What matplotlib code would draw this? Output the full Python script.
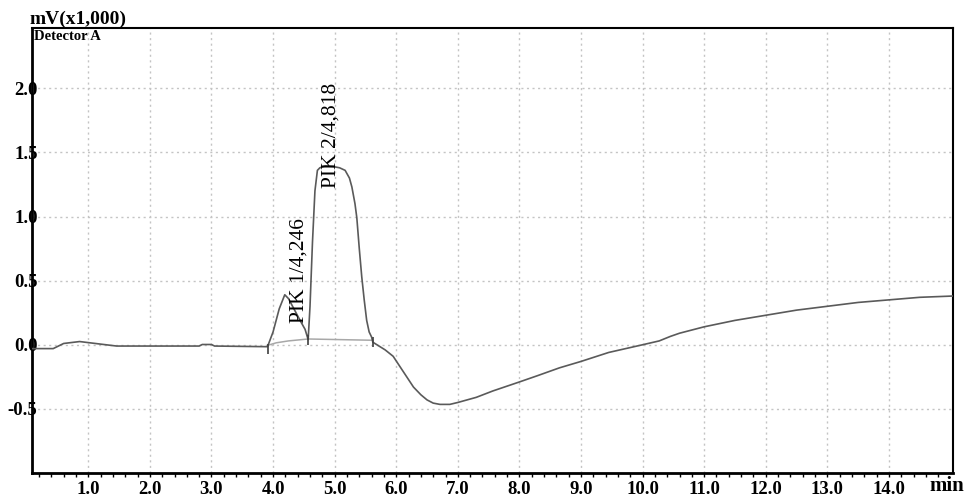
import numpy as np
import matplotlib
matplotlib.use("Agg")
import matplotlib.pyplot as plt

# chromatogram trace (time in min, signal in mV x1000)
time_min = [0.09, 0.43, 0.60, 0.86, 1.03, 1.20, 1.46, 2.80, 2.85, 3.00, 3.05, 3.91,
            4.00, 4.10, 4.19, 4.25, 4.35, 4.45, 4.52, 4.57,
            4.60, 4.64, 4.68, 4.72, 4.76, 4.85, 4.97, 5.08, 5.17, 5.24, 5.28, 5.33,
            5.36, 5.40, 5.44, 5.48, 5.52, 5.56, 5.60, 5.62,
            5.72, 5.82, 5.95, 6.06, 6.17, 6.28, 6.40, 6.50, 6.60, 6.71, 6.87, 7.00,
            7.30, 7.57, 8.00, 8.30, 8.65, 9.00, 9.45, 10.00, 10.27, 10.45, 10.60,
            11.00, 11.50, 12.00, 12.50, 13.00, 13.50, 14.00, 14.50, 15.04]
signal = [-0.03, -0.03, 0.01, 0.025, 0.015, 0.005, -0.01, -0.01, 0.002, 0.002, -0.01, -0.015,
          0.10, 0.28, 0.39, 0.36, 0.27, 0.18, 0.12, 0.04,
          0.30, 0.80, 1.20, 1.36, 1.38, 1.395, 1.39, 1.38, 1.36, 1.30, 1.23, 1.10,
          0.99, 0.75, 0.53, 0.35, 0.19, 0.10, 0.06, 0.02,
          -0.01, -0.04, -0.09, -0.17, -0.25, -0.33, -0.39, -0.43, -0.455, -0.465, -0.465, -0.45,
          -0.41, -0.36, -0.29, -0.24, -0.18, -0.13, -0.06, 0.00, 0.03, 0.065, 0.09,
          0.14, 0.19, 0.23, 0.27, 0.30, 0.33, 0.35, 0.37, 0.38]

# integration baseline under the peaks
base_t = [3.91, 4.05, 4.25, 4.57, 5.62]
base_y = [-0.005, 0.015, 0.03, 0.045, 0.035]

# peak boundary marks
mark_t = [3.91, 4.57, 5.62]
mark_y = [-0.03, 0.04, 0.025]

peak_labels = ["PIK 1/4,246", "PIK 2/4,818"]
peak_lab_x = [4.42, 4.94]
peak_lab_y = [0.17, 1.22]

xticks = np.arange(1, 15)
yticks = [-0.5, 0.0, 0.5, 1.0, 1.5, 2.0]

plt.rcParams['font.family'] = ['Liberation Serif', 'DejaVu Serif']

fig = plt.figure(figsize=(9.67, 4.97), dpi=100)
ax = fig.add_axes([32/967, 1-473/497, (953-32)/967, (473-28)/497])

ax.plot(base_t, base_y, color="#a8a8a8", lw=1.1, zorder=2)
ax.plot(time_min, signal, color="#5a5a5a", lw=1.2, zorder=3)
ax.plot(mark_t, mark_y, ls="none", marker="|", ms=7, mew=1.2, color="#404040", zorder=4)

for lab, lx, ly in zip(peak_labels, peak_lab_x, peak_lab_y):
    ax.text(lx, ly, lab, rotation=90, ha="center", va="bottom", fontsize=15.5, color="black")

ax.set_xlim(0.086, 15.04)
ax.set_ylim(-1.0, 2.47)

ax.set_xticks(xticks)
ax.set_xticklabels(["%.1f" % v for v in xticks])
ax.set_xticks(np.arange(0.2, 15.0, 0.2), minor=True)
ax.set_yticks(yticks)
ax.set_yticklabels(["%.1f" % v for v in yticks])

ax.tick_params(axis="x", which="both", direction="out", length=3, width=1, pad=3,
               labelsize=13.5, colors="black")
ax.tick_params(axis="y", which="both", length=0, pad=-4, labelsize=13.5)
for lbl in ax.get_xticklabels() + ax.get_yticklabels():
    lbl.set_fontweight("bold")

ax.grid(True, which="major", color="#c4c4c4", ls=(0, (1.5, 2.5)), lw=1)
ax.set_axisbelow(True)

for side in ["left", "bottom"]:
    ax.spines[side].set_linewidth(2)
for side in ["top", "right"]:
    ax.spines[side].set_linewidth(1.5)

fig.text(30/967, 1-24/497, "mV(x1,000)", fontsize=14, fontweight="bold", va="baseline", ha="left")
fig.text(34/967, 1-37/497, "Detector A", fontsize=10.5, fontweight="bold", va="center", ha="left")
fig.text(947/967, 1-486/497, "min", fontsize=15, fontweight="bold", va="center", ha="center")

fig.savefig("out.png", dpi=100)
